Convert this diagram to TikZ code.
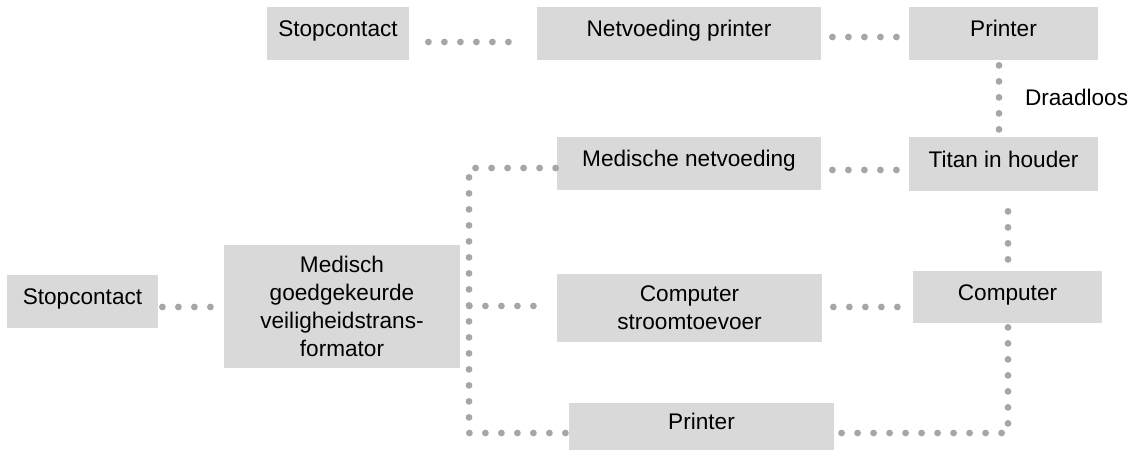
\documentclass[tikz,border=0pt]{standalone}
\usepackage{fontspec}
\setmainfont{Liberation Sans}
\definecolor{blokgrijs}{HTML}{D9D9D9}
\definecolor{stipgrijs}{HTML}{A6A6A6}

\begin{document}
\begin{tikzpicture}[x=0.5pt,y=-0.5pt,
    blok/.style={fill=blokgrijs,inner sep=0pt,align=center,
        font=\fontsize{11.3}{14}\selectfont},
    regel/.style={text height=8pt,text depth=5pt},
    stip/.style={stipgrijs,line width=3.4pt,line cap=round,
        dash pattern=on 0pt off 8pt}]
\useasboundingbox (0,0) rectangle (1131,450);

% bovenste rij
\node[blok,regel,minimum width=71pt,minimum height=26.5pt] (stop1) at (338,33.5) {Stopcontact};
\node[blok,regel,minimum width=142pt,minimum height=26.5pt] (netv) at (679,33.5) {Netvoeding printer};
\node[blok,regel,minimum width=94.5pt,minimum height=26.5pt] (prt1) at (1003.5,33.5) {Printer};

% midden
\node[blok,regel,minimum width=94.5pt,minimum height=27pt] (titan) at (1003.5,164) {Titan in houder};
\node[blok,regel,minimum width=132pt,minimum height=26.5pt] (mednet) at (689,163.5) {Medische netvoeding};
\node[blok,minimum width=132.5pt,minimum height=34pt] (compst) at (689.5,308) {Computer\\stroomtoevoer};
\node[blok,regel,minimum width=94.5pt,minimum height=26pt] (comp) at (1007.5,297) {Computer};
\node[blok,regel,minimum width=132.5pt,minimum height=23.5pt] (prt2) at (701.5,426.5) {Printer};

% links
\node[blok,minimum width=118pt,minimum height=61.5pt] (trafo) at (342,306.5)
    {Medisch\\goedgekeurde\\veiligheidstrans-\\formator};
\node[blok,regel,minimum width=75.5pt,minimum height=26.5pt] (stop2) at (82.5,301.5) {Stopcontact};

\coordinate (busonder) at (469,433);

% verbindingen
\draw[stip] ([shift={(19,8.5)}]stop1.east) -- ([shift={(-22,8.5)}]netv.west);
\draw[stip] ([shift={(11,3.5)}]netv.east) -- ([shift={(-11,3.5)}]prt1.west);
\draw[stip] ([shift={(-4.5,5)}]prt1.south) -- ([shift={(-4.5,-7)}]titan.north)
    node[pos=0.5,anchor=west,xshift=8pt,text=black,font=\fontsize{11.3}{14}\selectfont] (draad) {Draadloos};
\draw[stip] ([shift={(11,6.5)}]mednet.east) -- ([shift={(-11,6)}]titan.west);
\draw[stip] ([shift={(-1,4.5)}]mednet.west) -| (busonder) -- ([shift={(-1,6.5)}]prt2.west);
\draw[stip] ([shift={(9,-0.5)}]trafo.east) -- ([shift={(-10,-2)}]compst.west);
\draw[stip] ([shift={(11,-1)}]compst.east) -- ([shift={(-10,10)}]comp.west);
\draw[stip] ([shift={(4.5,20)}]titan.south) -- ([shift={(0.5,-9)}]comp.north);
\draw[stip] ([shift={(0.5,4)}]comp.south) |- ([shift={(1,6.5)}]prt2.east);
\draw[stip] ([shift={(4,5.5)}]stop2.east) -- ([shift={(-2,0.5)}]trafo.west);
\end{tikzpicture}
\end{document}
